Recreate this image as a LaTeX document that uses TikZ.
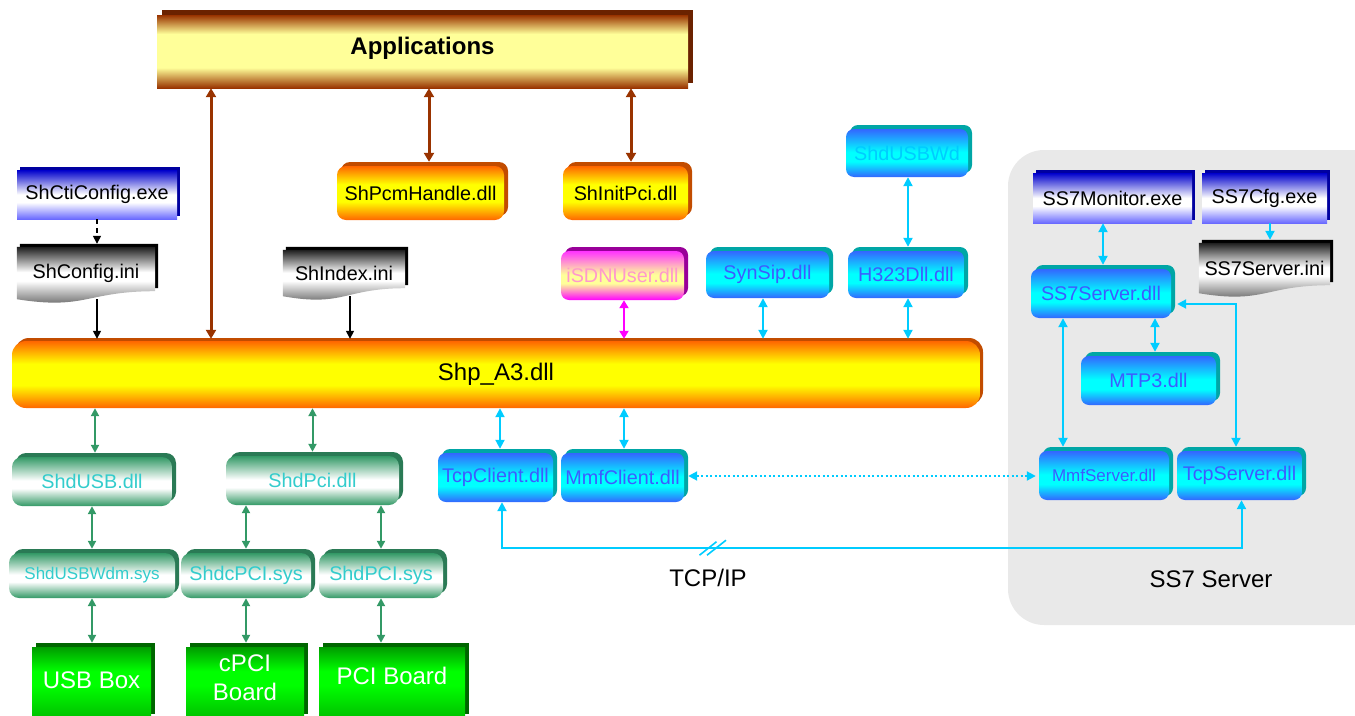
\documentclass[tikz,border=0pt]{standalone}
\usepackage{fontspec}
\setmainfont{Liberation Sans}
\usetikzlibrary{arrows.meta,shadows,calc}

% palette
\definecolor{appbrown}{HTML}{993300}
\definecolor{appyel}{HTML}{FFFF99}
\definecolor{appside}{HTML}{6B2200}
\definecolor{orng}{HTML}{FF6600}
\definecolor{yel}{HTML}{FFFF00}
\definecolor{orside}{HTML}{C24C00}
\definecolor{exetop}{HTML}{0000CC}
\definecolor{exebot}{HTML}{6A6AFF}
\definecolor{exeside}{HTML}{0000A0}
\definecolor{doctop}{HTML}{1E1E1E}
\definecolor{docbot}{HTML}{4A4A4A}
\definecolor{dllblue}{HTML}{3366FF}
\definecolor{dllcyan}{HTML}{00FFFF}
\definecolor{dllside}{HTML}{00A6A6}
\definecolor{dlltext}{HTML}{3D5CFF}
\definecolor{usbwdtext}{HTML}{00CCFF}
\definecolor{grn}{HTML}{339966}
\definecolor{grnside}{HTML}{2A7A55}
\definecolor{grntext}{HTML}{33CCCC}
\definecolor{brdtop}{HTML}{009C00}
\definecolor{brdmid}{HTML}{00FF00}
\definecolor{brdbot}{HTML}{00C000}
\definecolor{brdside}{HTML}{006600}
\definecolor{isdntop}{HTML}{FF33FF}
\definecolor{isdnmid}{HTML}{FFFF99}
\definecolor{isdnbot}{HTML}{FF00FF}
\definecolor{isdnside}{HTML}{990099}
\definecolor{isdntext}{HTML}{FF99CC}
\definecolor{linkcyan}{HTML}{00CCFF}
\definecolor{linkgreen}{HTML}{339966}
\definecolor{linkbrown}{HTML}{993300}
\definecolor{linkmag}{HTML}{FF00FF}
\definecolor{ssbg}{HTML}{E9E9E9}

% vertical shadings (0bp = bottom, 25bp..75bp spans the shape)
\pgfdeclareverticalshading{appshade}{100bp}{color(0bp)=(appbrown); color(25bp)=(appbrown); color(39bp)=(appyel); color(62bp)=(appyel); color(75bp)=(appbrown); color(100bp)=(appbrown)}
\pgfdeclareverticalshading{orshade}{100bp}{color(0bp)=(orng); color(25bp)=(orng); color(42bp)=(yel); color(58bp)=(yel); color(75bp)=(orng); color(100bp)=(orng)}
\pgfdeclareverticalshading{exeshade}{100bp}{color(0bp)=(exebot); color(25bp)=(exebot); color(42bp)=(white); color(50bp)=(white); color(75bp)=(exetop); color(100bp)=(exetop)}
\pgfdeclareverticalshading{docshade}{100bp}{color(0bp)=(docbot); color(25bp)=(docbot); color(48bp)=(white); color(55bp)=(white); color(75bp)=(doctop); color(100bp)=(doctop)}
\pgfdeclareverticalshading{dllshade}{100bp}{color(0bp)=(dllblue); color(25bp)=(dllblue); color(41bp)=(dllcyan); color(51bp)=(dllcyan); color(75bp)=(dllblue); color(100bp)=(dllblue)}
\pgfdeclareverticalshading{isdnshade}{100bp}{color(0bp)=(isdnbot); color(25bp)=(isdnbot); color(42bp)=(isdnmid); color(51bp)=(isdnmid); color(75bp)=(isdntop); color(100bp)=(isdntop)}
\pgfdeclareverticalshading{grnshade}{100bp}{color(0bp)=(grn); color(25bp)=(grn); color(43bp)=(white); color(51bp)=(white); color(75bp)=(grn); color(100bp)=(grn)}
\pgfdeclareverticalshading{brdshade}{100bp}{color(0bp)=(brdbot); color(25bp)=(brdbot); color(48bp)=(brdmid); color(58bp)=(brdmid); color(75bp)=(brdtop); color(100bp)=(brdtop)}

\pgfdeclarelayer{back}
\pgfdeclarelayer{mid}
\pgfsetlayers{back,mid,main}

\newcommand\lblfont{\fontsize{19.8}{23}\selectfont}
\newcommand\lblsmall{\fontsize{17}{20}\selectfont}
\newcommand\lblbig{\fontsize{24}{29}\selectfont}

% ini-file symbol (wavy bottom) behind a node: black extrusion, then shaded face
\newcommand\inishape[1]{%
  \fill[black] let \p1=(#1.north west), \p2=(#1.south east), \p3=(#1.south) in
    (\x1+3pt,\y1+3pt) -- (\x2+3pt,\y1+3pt) -- (\x2+3pt,\y2+11pt)
    .. controls (\x3+3pt,\y2+11pt) and (\x3+3pt,\y2-8pt) .. (\x1+3pt,\y2+3pt) -- cycle;
  \shade[shading=docshade] let \p1=(#1.north west), \p2=(#1.south east), \p3=(#1.south) in
    (\x1,\y1) -- (\x2,\y1) -- (\x2,\y2+8pt)
    .. controls (\x3,\y2+8pt) and (\x3,\y2-11pt) .. (\x1,\y2) -- cycle;
}

\tikzset{
  unit/.style={inner sep=0pt, align=center, font=\lblfont},
  appbox/.style={unit, shade, shading=appshade, font=\lblbig\bfseries,
    general shadow={fill=appside, shadow xshift=5pt, shadow yshift=5pt}},
  orbox/.style={unit, rounded corners=9pt, shade, shading=orshade,
    general shadow={fill=orside, shadow xshift=4pt, shadow yshift=4pt}},
  shpbox/.style={unit, rounded corners=14pt, shade, shading=orshade, font=\lblbig,
    general shadow={fill=orside, shadow xshift=3pt, shadow yshift=3pt}},
  exebox/.style={unit, shade, shading=exeshade,
    general shadow={fill=exeside, shadow xshift=3pt, shadow yshift=3pt}},
  inibox/.style={unit},
  dllbox/.style={unit, rounded corners=8pt, shade, shading=dllshade, text=dlltext,
    general shadow={fill=dllside, shadow xshift=4pt, shadow yshift=4pt}},
  isdnbox/.style={unit, rounded corners=8pt, shade, shading=isdnshade, text=isdntext,
    general shadow={fill=isdnside, shadow xshift=4pt, shadow yshift=4pt}},
  drvbox/.style={unit, rounded corners=10pt, shade, shading=grnshade, text=grntext,
    general shadow={fill=grnside, shadow xshift=4pt, shadow yshift=4pt}},
  boardbox/.style={unit, shade, shading=brdshade, text=white, font=\lblbig,
    general shadow={fill=brdside, shadow xshift=4pt, shadow yshift=4pt}},
  plain/.style={inner sep=0pt, font=\lblbig},
  brownlink/.style={draw=linkbrown, line width=3pt, >={Triangle[length=9pt,width=10pt]}},
  blacklink/.style={draw=black, line width=1.5pt, >={Triangle[length=8pt,width=8pt]}},
  cyanlink/.style={draw=linkcyan, line width=2pt, >={Triangle[length=9pt,width=9pt]}},
  greenlink/.style={draw=linkgreen, line width=2pt, >={Triangle[length=8pt,width=8pt]}},
  magentalink/.style={draw=linkmag, line width=2.5pt, >={Triangle[length=8pt,width=9pt]}},
  dotlink/.style={cyanlink, line width=2pt, dash pattern=on 2pt off 2.5pt},
}

\begin{document}
\begin{tikzpicture}[x=1pt,y=-1pt]
\useasboundingbox (0,0) rectangle (1355,715);

% SS7 server area
\begin{pgfonlayer}{back}
  \fill[ssbg, rounded corners=36pt] (1008,150) rectangle (1390,625);
\end{pgfonlayer}

% upper row
\node[appbox, text depth=11pt, minimum width=531pt, minimum height=73pt] (app) at (422.5,51.5) {Applications};
\node[orbox, minimum width=167pt, minimum height=54pt] (pcm) at (420.5,193) {ShPcmHandle.dll};
\node[orbox, minimum width=125pt, minimum height=54pt] (init) at (625.5,193) {ShInitPci.dll};
\node[exebox, minimum width=160pt, minimum height=49pt] (ctcfg) at (97,194.5) {ShCtiConfig.exe};
\node[inibox, minimum width=138pt, minimum height=52pt] (cfgini) at (86,273) {ShConfig.ini};
\node[inibox, minimum width=122pt, minimum height=46pt] (idxini) at (344,273) {ShIndex.ini};
\node[isdnbox, minimum width=123pt, minimum height=49pt] (isdn) at (622.5,275.5) {iSDNUser.dll};
\node[dllbox, minimum width=123pt, minimum height=47pt] (synsip) at (767.5,274.5) {SynSip.dll};
\node[dllbox, minimum width=116pt, minimum height=47pt] (h323) at (906,274.5) {H323Dll.dll};
\node[dllbox, text=usbwdtext, minimum width=122pt, minimum height=48pt] (usbwd) at (907,153) {ShdUSBWd};

% core library
\node[shpbox, minimum width=968pt, minimum height=67pt] (shp) at (496,374.5) {Shp\_A3.dll};

% drivers and boards
\node[drvbox, minimum width=160pt, minimum height=49pt] (shdusb) at (92,481.5) {ShdUSB.dll};
\node[drvbox, minimum width=173pt, minimum height=49pt] (shdpci) at (312.5,480.5) {ShdPci.dll};
\node[drvbox, font=\lblsmall, minimum width=166pt, minimum height=45pt] (usbwdm) at (92,575.5) {ShdUSBWdm.sys};
\node[drvbox, minimum width=130pt, minimum height=45pt] (cpcisys) at (246,575.5) {ShdcPCI.sys};
\node[drvbox, minimum width=124pt, minimum height=45pt] (pcisys) at (381,575.5) {ShdPCI.sys};
\node[boardbox, text depth=4pt, minimum width=119pt, minimum height=71pt] (usbbox) at (91.5,682.5) {USB Box};
\node[boardbox, text depth=10pt, minimum width=118pt, minimum height=71pt] (cpcib) at (245,682.5) {cPCI\\Board};
\node[boardbox, text depth=14pt, minimum width=146pt, minimum height=71pt] (pcib) at (392,682.5) {PCI Board};

% client side of the SS7 link
\node[dllbox, minimum width=115pt, minimum height=49pt] (tcpc) at (495.5,477.5) {TcpClient.dll};
\node[dllbox, minimum width=123pt, minimum height=49pt] (mmfc) at (622.5,477.5) {MmfClient.dll};

% SS7 server
\node[exebox, minimum width=159pt, minimum height=50pt] (ss7mon) at (1112.5,198) {SS7Monitor.exe};
\node[exebox, minimum width=125pt, minimum height=50pt] (ss7cfg) at (1264.5,198) {SS7Cfg.exe};
\node[inibox, minimum width=131pt, minimum height=50pt] (ss7ini) at (1264.5,268) {SS7Server.ini};
\node[dllbox, minimum width=140pt, minimum height=49pt] (ss7dll) at (1101,293.5) {SS7Server.dll};
\node[dllbox, minimum width=135pt, minimum height=49pt] (mtp3) at (1148.5,380.5) {MTP3.dll};
\node[dllbox, font=\lblsmall, minimum width=130pt, minimum height=49pt] (mmfs) at (1104,475.5) {MmfServer.dll};
\node[dllbox, minimum width=125pt, minimum height=49pt] (tcps) at (1239.5,475.5) {TcpServer.dll};

\node[plain] (tcplbl) at (708,578) {TCP/IP};
\node[plain] (sslbl) at (1211,579) {SS7 Server};

\begin{pgfonlayer}{mid}
  \inishape{cfgini}
  \inishape{idxini}
  \inishape{ss7ini}
\end{pgfonlayer}

% application links
\draw[brownlink,<->,shorten >=2pt] ($(app.south)+(-211.5,0)$) -- ($(app.south |- shp.north)+(-211.5,0)$);
\draw[brownlink,<->,shorten <=4pt] ($(pcm.north)+(8.5,0)$) -- ($(pcm.north |- app.south)+(8.5,0)$);
\draw[brownlink,<->,shorten <=4pt] ($(init.north)+(5.5,0)$) -- ($(init.north |- app.south)+(5.5,0)$);

% configuration files
\draw[blacklink,->,dash pattern=on 5pt off 4pt,shorten >=3pt] (ctcfg.south) -- (ctcfg.south |- cfgini.north);
\draw[blacklink,->,shorten >=2pt] (ctcfg.south |- cfgini.south) -- (ctcfg.south |- shp.north);
\draw[blacklink,->,shorten >=2pt] ($(idxini.south)+(6,0)$) -- ($(idxini.south |- shp.north)+(6,0)$);

% protocol modules
\draw[magentalink,<->,shorten >=2pt] ($(isdn.south)+(1.5,0)$) -- ($(isdn.south |- shp.north)+(1.5,0)$);
\draw[cyanlink,<->,shorten >=2pt] ($(synsip.south)+(-4.5,0)$) -- ($(synsip.south |- shp.north)+(-4.5,0)$);
\draw[cyanlink,<->,shorten >=2pt] ($(h323.south)+(2,0)$) -- ($(h323.south |- shp.north)+(2,0)$);
\draw[cyanlink,<->,shorten >=4pt] ($(usbwd.south)+(1,0)$) -- ($(usbwd.south |- h323.north)+(1,0)$);

% driver stack
\draw[greenlink,<->,shorten >=4pt] ($(shdusb.north |- shp.south)+(3,0)$) -- ($(shdusb.north)+(3,0)$);
\draw[greenlink,<->,shorten >=4pt] (shdpci.north |- shp.south) -- (shdpci.north);
\draw[greenlink,<->,shorten >=4pt] (shdusb.south) -- (shdusb.south |- usbwdm.north);
\draw[greenlink,<->,shorten >=4pt] (cpcisys.north |- shdpci.south) -- (cpcisys.north);
\draw[greenlink,<->,shorten >=4pt] (pcisys.north |- shdpci.south) -- (pcisys.north);
\draw[greenlink,<->,shorten >=4pt] (usbwdm.south) -- (usbwdm.south |- usbbox.north);
\draw[greenlink,<->,shorten >=4pt] (cpcisys.south) -- (cpcisys.south |- cpcib.north);
\draw[greenlink,<->,shorten >=4pt] (pcisys.south) -- (pcisys.south |- pcib.north);

% SS7 clients
\draw[cyanlink,<->,shorten >=4pt] ($(tcpc.north |- shp.south)+(4.5,0)$) -- ($(tcpc.north)+(4.5,0)$);
\draw[cyanlink,<->,shorten >=4pt] ($(mmfc.north |- shp.south)+(1.5,0)$) -- ($(mmfc.north)+(1.5,0)$);
\draw[dotlink,<->,shorten <=4pt,shorten >=3pt] ($(mmfc.east)+(0,-1.5)$) -- ($(mmfc.east -| mmfs.west)+(0,-1.5)$);

% TCP/IP link with break mark
\draw[cyanlink,<->] ($(tcpc.south)+(6.5,0)$) -- ++(0,46) -| ($(tcps.south)+(2,0)$);
\coordinate (brk) at ($(tcpc.south)+(215.5,46)$);
\draw[cyanlink,line width=1.6pt] ($(brk)+(-11.5,7)$) -- ($(brk)+(5.5,-6.5)$);
\draw[cyanlink,line width=1.6pt] ($(brk)+(-4,7)$) -- ($(brk)+(15,-8)$);

% SS7 server internals
\draw[cyanlink,<->,shorten >=4pt] ($(ss7mon.south)+(-9.5,0)$) -- ($(ss7mon.south |- ss7dll.north)+(-9.5,0)$);
\draw[cyanlink,->,shorten >=3pt] ($(ss7cfg.south)+(5.5,0)$) -- ($(ss7cfg.south |- ss7ini.north)+(5.5,0)$);
\draw[cyanlink,<->,shorten >=4pt] ($(mtp3.north |- ss7dll.south)+(6.5,0)$) -- ($(mtp3.north)+(6.5,0)$);
\draw[cyanlink,<->,shorten >=4pt] ($(ss7dll.south)+(-38,0)$) -- ($(ss7dll.south |- mmfs.north)+(-38,0)$);
\draw[cyanlink,<->,shorten >=4pt] ($(ss7dll.east)+(6,10.5)$) -| ($(tcps.north)+(-3.5,0)$);
\end{tikzpicture}
\end{document}
